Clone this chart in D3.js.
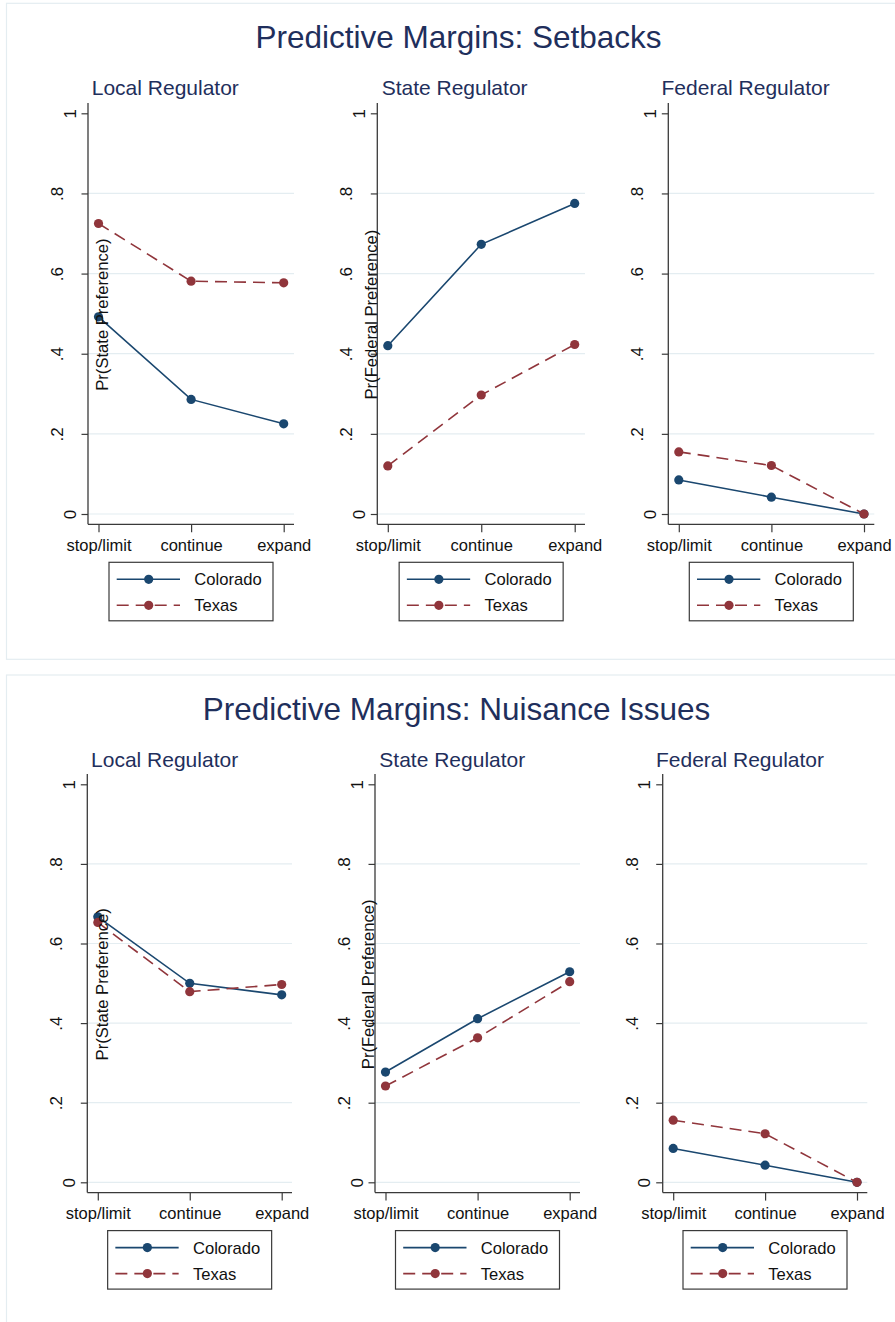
<!DOCTYPE html>
<html>
<head>
<meta charset="utf-8">
<script src="https://cdn.jsdelivr.net/npm/d3@7"></script>
<style>
  body { margin: 0; background: #fff; }
  svg { display: block; font-family: "Liberation Sans", Arial, Helvetica, sans-serif; }
</style>
</head>
<body>
<svg id="chart" width="895" height="1322"></svg>
<script>
// ---- data ----
const outcomes = ["stop/limit", "continue", "expand"];
const regulators = ["Local Regulator", "State Regulator", "Federal Regulator"];
const yAxisTitles = ["Pr(State Preference)", "Pr(Federal Preference)", ""];
const states = ["Colorado", "Texas"];
const yTicks = [0, 0.2, 0.4, 0.6, 0.8, 1];
const yTickLabels = ["0", ".2", ".4", ".6", ".8", "1"];
const panelTitles = ["Predictive Margins: Setbacks", "Predictive Margins: Nuisance Issues"];

// predicted probabilities, one row per regulator (local, state, federal)
const setbacksColorado = [[0.492, 0.286, 0.225], [0.420, 0.673, 0.775], [0.085, 0.042, 0.0]];
const setbacksTexas    = [[0.725, 0.581, 0.577], [0.120, 0.297, 0.423], [0.155, 0.121, 0.0]];
const nuisanceColorado = [[0.667, 0.500, 0.471], [0.277, 0.411, 0.529], [0.085, 0.043, 0.0]];
const nuisanceTexas    = [[0.653, 0.479, 0.497], [0.242, 0.363, 0.504], [0.156, 0.122, 0.0]];

// ---- layout ----
const seriesStyle = [
  { color: "#1a476f", dash: null },
  { color: "#90353b", dash: "12,7" }
];
const titleColor = "#1f2f5c";
const axisColor = "#3a3a3a";
const gridColor = "#e4edf1";

const panels = [
  { top: 3.3, titleCX: 458.5, yZero: 514, yOne: 113.3,
    axisX: [88, 377.3, 668.3], right: [294, 585, 874.3], yTitleDx: [20, -0.6],
    data: [setbacksColorado, setbacksTexas] },
  { top: 675, titleCX: 456.5, yZero: 1182.3, yOne: 784.3,
    axisX: [87.3, 375, 662.7], right: [292, 580, 867.3], yTitleDx: [20.7, -1.5],
    data: [nuisanceColorado, nuisanceTexas] }
];

const svg = d3.select("#chart");
svg.append("rect").attr("width", 895).attr("height", 1322).attr("fill", "#fff");

panels.forEach((p, pi) => {
  const g = svg.append("g");

  // outer frame of each combined graph
  g.append("rect")
    .attr("x", 6.5).attr("y", p.top)
    .attr("width", 920).attr("height", pi === 0 ? 656 : 700)
    .attr("fill", "#fff").attr("stroke", gridColor).attr("stroke-width", 1.2);

  g.append("text")
    .attr("x", p.titleCX).attr("y", p.top + 45)
    .attr("text-anchor", "middle")
    .attr("font-size", 31.5).attr("fill", titleColor)
    .text(panelTitles[pi]);

  const y = d3.scaleLinear().domain([0, 1]).range([p.yZero, p.yOne]);
  const pad = 10.3;
  const yTop = y(1) - pad, xAxisY = y(0) + pad;

  regulators.forEach((reg, ri) => {
    const ax = p.axisX[ri], rx = p.right[ri];
    const x = d3.scaleLinear().domain([0, 2]).range([ax + 10.5, rx - 10.3]);
    const sg = g.append("g");

    // subplot title
    sg.append("text")
      .attr("x", ax + 77.3).attr("y", p.top + 91.5)
      .attr("text-anchor", "middle")
      .attr("font-size", 21).attr("fill", titleColor)
      .text(reg);

    // horizontal grid lines
    sg.selectAll("line.grid").data(yTicks.filter(t => t < 1)).enter()
      .append("line").attr("class", "grid")
      .attr("x1", ax).attr("x2", rx)
      .attr("y1", d => y(d)).attr("y2", d => y(d))
      .attr("stroke", gridColor).attr("stroke-width", 1.2);

    // y axis
    const yAxis = d3.axisLeft(y).tickValues(yTicks).tickSize(6.5).tickFormat((d, i) => yTickLabels[i]);
    const ya = sg.append("g").attr("transform", `translate(${ax},0)`).call(yAxis);
    ya.select(".domain").remove();
    ya.selectAll(".tick line").attr("stroke", axisColor).attr("stroke-width", 1.2);
    ya.selectAll(".tick text")
      .attr("x", null).attr("dy", null)
      .attr("font-size", 17).attr("fill", "#111")
      .attr("font-family", "Liberation Sans, Arial, sans-serif")
      .attr("text-anchor", "middle")
      .attr("transform", function (d, i) {
        const off = yTickLabels[i].length > 1 ? 25 : 12.5;
        return `translate(${-off},0) rotate(-90)`;
      });
    sg.append("line")
      .attr("x1", ax).attr("x2", ax).attr("y1", yTop).attr("y2", xAxisY)
      .attr("stroke", axisColor).attr("stroke-width", 1.3);

    // x axis
    const xAxis = d3.axisBottom(x).tickValues([0, 1, 2]).tickSize(8).tickFormat(i => outcomes[i]);
    const xa = sg.append("g").attr("transform", `translate(0,${xAxisY})`).call(xAxis);
    xa.select(".domain").remove();
    xa.selectAll(".tick line").attr("stroke", axisColor).attr("stroke-width", 1.2);
    xa.selectAll(".tick text")
      .attr("y", 26.6).attr("dy", null)
      .attr("font-size", 16.5).attr("fill", "#111")
      .attr("font-family", "Liberation Sans, Arial, sans-serif");
    sg.append("line")
      .attr("x1", ax).attr("x2", rx).attr("y1", xAxisY).attr("y2", xAxisY)
      .attr("stroke", axisColor).attr("stroke-width", 1.3);

    // series
    const line = d3.line().x((d, i) => x(i)).y(d => y(d));
    p.data.forEach((series, si) => {
      const vals = series[ri];
      const st = seriesStyle[si];
      sg.append("path").datum(vals)
        .attr("d", line).attr("fill", "none")
        .attr("stroke", st.color).attr("stroke-width", 1.6)
        .attr("stroke-dasharray", st.dash);
      sg.selectAll(null).data(vals).enter().append("circle")
        .attr("cx", (d, i) => x(i)).attr("cy", d => y(d)).attr("r", 4.6)
        .attr("fill", st.color);
    });

    // y axis title
    if (yAxisTitles[ri]) {
      const cy = (y(0) + y(1)) / 2 + 1;
      sg.append("text")
        .attr("transform", `translate(${ax + p.yTitleDx[ri]},${cy}) rotate(-90)`)
        .attr("text-anchor", "middle")
        .attr("font-size", 16.6).attr("fill", "#111")
        .text(yAxisTitles[ri]);
    }

    // legend
    const lw = 164, lh = 58.5;
    const lx = (ax + rx) / 2 - lw / 2, ly = xAxisY + 38;
    const lg = sg.append("g").attr("transform", `translate(${lx},${ly})`);
    lg.append("rect").attr("width", lw).attr("height", lh)
      .attr("fill", "#fff").attr("stroke", axisColor).attr("stroke-width", 1.2);
    states.forEach((s, si) => {
      const st = seriesStyle[si];
      const ry = si === 0 ? 17 : 43;
      lg.append("line").attr("x1", 7.7).attr("x2", 71).attr("y1", ry).attr("y2", ry)
        .attr("stroke", st.color).attr("stroke-width", 1.6).attr("stroke-dasharray", st.dash);
      lg.append("circle").attr("cx", 39.7).attr("cy", ry).attr("r", 4.6).attr("fill", st.color);
      lg.append("text").attr("x", 85.3).attr("y", ry + 6)
        .attr("font-size", 16.6).attr("fill", "#111").text(s);
    });
  });
});
</script>
</body>
</html>
